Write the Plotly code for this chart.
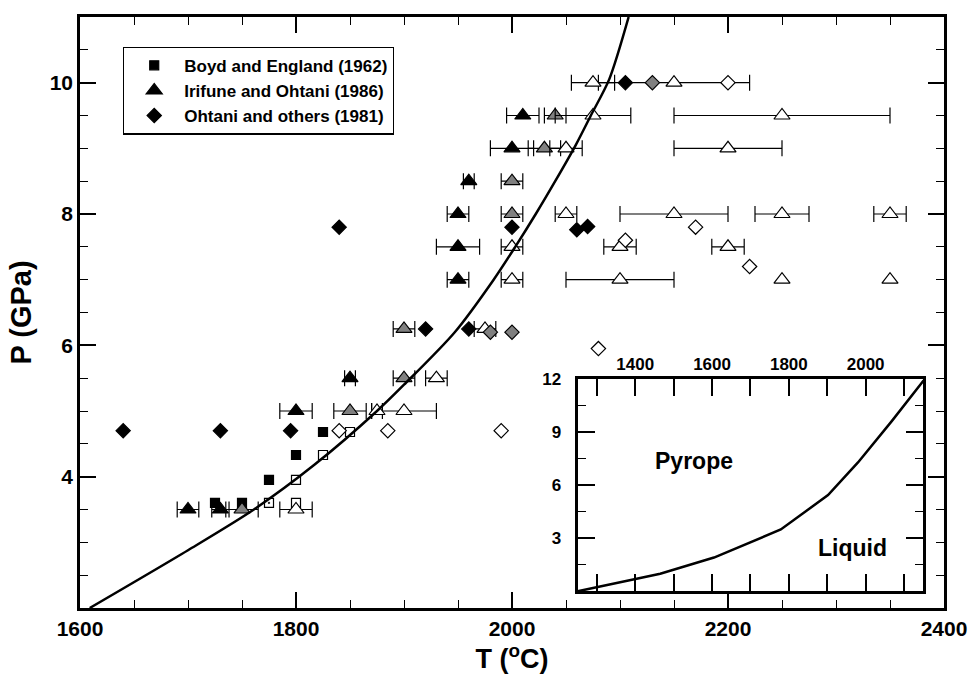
import plotly.graph_objects as go

# ---- Boyd and England (1962): squares ----
be_T = [1725, 1750, 1775, 1800, 1825, 1775, 1800, 1800, 1825, 1850]
be_P = [3.6, 3.6, 3.95, 4.33, 4.68, 3.6, 3.6, 3.95, 4.33, 4.68]
be_state = ["solid", "solid", "solid", "solid", "solid",
            "dot", "melt", "melt", "melt", "melt"]

# ---- Irifune and Ohtani (1986): triangles with temperature uncertainty ----
io_T = [1700, 1730, 1750, 1800,
        1800, 1850, 1875, 1900,
        1850, 1900, 1930,
        1900, 1975,
        1950, 2000, 2100, 2250, 2350,
        1950, 2000, 2100, 2200,
        1950, 2000, 2050, 2150, 2250, 2350,
        1960, 2000,
        2000, 2030, 2050, 2200,
        2010, 2040, 2075, 2250,
        2075, 2150]
io_P = [3.5, 3.5, 3.5, 3.5,
        5.0, 5.0, 5.0, 5.0,
        5.5, 5.5, 5.5,
        6.25, 6.25,
        7.0, 7.0, 7.0, 7.0, 7.0,
        7.5, 7.5, 7.5, 7.5,
        8.0, 8.0, 8.0, 8.0, 8.0, 8.0,
        8.5, 8.5,
        9.0, 9.0, 9.0, 9.0,
        9.5, 9.5, 9.5, 9.5,
        10.0, 10.0]
io_err = [10, 8, 15, 15,
          15, 15, 5, 30,
          5, 10, 10,
          10, 10,
          10, 10, 50, None, None,
          20, 10, 15, 15,
          10, 10, 10, 50, 25, 15,
          5, 10,
          20, 15, 15, 50,
          15, 10, 35, 100,
          20, 70]
io_state = ["solid", "solid", "partial", "melt",
            "solid", "partial", "melt", "melt",
            "solid", "partial", "melt",
            "partial", "melt",
            "solid", "melt", "melt", "melt", "melt",
            "solid", "melt", "melt", "melt",
            "solid", "partial", "melt", "melt", "melt", "melt",
            "solid", "partial",
            "solid", "partial", "melt", "melt",
            "solid", "partial", "melt", "melt",
            "melt", "melt"]

# ---- Ohtani and others (1981): diamonds ----
oh_T = [1640, 1730, 1795, 1840, 1920, 1960, 2000, 2060, 2070, 2105,
        1980, 2000, 2130,
        1840, 1885, 1990, 2080, 2105, 2170, 2220, 2200]
oh_P = [4.7, 4.7, 4.7, 7.8, 6.25, 6.25, 7.8, 7.76, 7.81, 10.0,
        6.2, 6.2, 10.0,
        4.7, 4.7, 4.7, 5.95, 7.6, 7.8, 7.2, 10.0]
oh_state = ["solid"] * 10 + ["partial"] * 3 + ["melt"] * 8

# ---- Pyrope melting curve ----
curve_T = [1609, 1700, 1761, 1817, 1875, 1900, 1947, 1983, 2003, 2022,
           2040, 2059, 2073, 2090, 2108]
curve_P = [2.0, 2.88, 3.5, 4.18, 5.0, 5.4, 6.2, 7.0, 7.5, 8.0,
           8.5, 9.05, 9.5, 10.05, 11.0]

# ---- Inset: full melting curve ----
inset_T = [1250, 1404, 1465, 1605, 1779, 1902, 1980, 2068, 2153]
inset_P = [0.0, 0.71, 0.99, 1.91, 3.5, 5.45, 7.3, 9.64, 12.0]

FONT = "Liberation Sans, Arial, Helvetica, sans-serif"
FILL = {"solid": "black", "partial": "#808080", "melt": "white", "dot": "white"}
LEGEND_NAMES = {"be": "Boyd and England (1962)",
                "io": "Irifune and Ohtani (1986)",
                "oh": "Ohtani and others (1981)"}

fig = go.Figure()


def add_points(key, T, P, states, symbol, size, rank, err=None):
    order = ["solid", "partial", "dot", "melt"]
    for st in order:
        idx = [i for i, s in enumerate(states) if s == st]
        if not idx:
            continue
        groups = [idx]
        if err is not None:
            groups = [[i for i in idx if err[i] is not None],
                      [i for i in idx if err[i] is None]]
        for g_no, g in enumerate(groups):
            if not g:
                continue
            sym = symbol + "-dot" if st == "dot" else symbol
            show = (st == "solid" and g_no == 0)
            kw = {}
            if err is not None and g_no == 0:
                kw["error_x"] = dict(type="data", array=[err[i] for i in g],
                                     symmetric=True, color="black",
                                     thickness=1.2, width=8)
            fig.add_trace(go.Scatter(
                x=[T[i] for i in g], y=[P[i] for i in g],
                mode="markers", name=LEGEND_NAMES[key],
                showlegend=show, legendrank=rank,
                marker=dict(symbol=sym, size=size, color=FILL[st],
                            line=dict(color="black", width=1.2)),
                xaxis="x", yaxis="y", **kw))


add_points("be", be_T, be_P, be_state, "square", 9, 1)
add_points("io", io_T, io_P, io_state, "triangle-up", 14, 2, err=io_err)
add_points("oh", oh_T, oh_P, oh_state, "diamond", 11, 3)

fig.add_trace(go.Scatter(x=curve_T, y=curve_P, mode="lines", showlegend=False,
                         line=dict(color="black", width=2.5, shape="spline",
                                   smoothing=0.8),
                         xaxis="x", yaxis="y"))

fig.add_trace(go.Scatter(x=inset_T, y=inset_P, mode="lines", showlegend=False,
                         line=dict(color="black", width=2.5),
                         xaxis="x2", yaxis="y2"))

axis_common = dict(showline=True, linecolor="black", mirror="allticks",
                   ticks="inside", tickcolor="black", showgrid=False,
                   zeroline=False)

fig.update_layout(
    width=976, height=683,
    margin=dict(l=80, r=32, t=8, b=75),
    paper_bgcolor="white", plot_bgcolor="white",
    font=dict(family=FONT, color="black"),
    xaxis=dict(range=[1600, 2400], tickvals=[1600, 1800, 2000, 2200, 2400],
               ticklen=16, tickwidth=1.5, linewidth=2.5,
               minor=dict(dtick=50, ticklen=8, tickwidth=1.2, ticks="inside",
                          tickcolor="black"),
               tickfont=dict(size=21, family=FONT, weight="bold"),
               title=dict(text="<b>T (<sup>o</sup>C)</b>",
                          font=dict(size=27, family=FONT), standoff=4),
               **axis_common),
    yaxis=dict(range=[2, 11], tickvals=[4, 6, 8, 10],
               ticklen=16, tickwidth=1.5, linewidth=2.5,
               minor=dict(dtick=0.5, ticklen=8, tickwidth=1.2, ticks="inside",
                          tickcolor="black"),
               tickfont=dict(size=21, family=FONT, weight="bold"),
               title=dict(text="<b>P (GPa)</b>",
                          font=dict(size=29, family=FONT), standoff=10),
               **axis_common),
    xaxis2=dict(domain=[0.576, 0.976], anchor="y2", side="top",
                range=[1250, 2150],
                tickvals=[1400, 1600, 1800, 2000],
                minor=dict(tickvals=[1300, 1500, 1700, 1900, 2100], ticklen=17,
                           tickwidth=1.5, ticks="inside", tickcolor="black"),
                ticklen=17, tickwidth=1.5, linewidth=3,
                tickfont=dict(size=17, family=FONT, weight="bold"),
                **axis_common),
    yaxis2=dict(domain=[0.0283, 0.3867], anchor="x2", range=[0, 12],
                tickvals=[3, 6, 9, 12], ticklen=17, tickwidth=1.5, linewidth=3,
                ticklabelstandoff=10,
                minor=dict(tickvals=[1.5, 4.5, 7.5, 10.5], ticklen=8,
                           tickwidth=1.2, ticks="inside", tickcolor="black"),
                tickfont=dict(size=17, family=FONT, weight="bold"),
                **axis_common),
    legend=dict(x=0.0498, y=0.95, xanchor="left", yanchor="top",
                bgcolor="white", bordercolor="black", borderwidth=1.2,
                font=dict(size=17, family=FONT, weight="bold"), itemwidth=50,
                itemsizing="trace", traceorder="normal"),
    annotations=[
        dict(x=1553, y=7.37, xref="x2", yref="y2", text="<b>Pyrope</b>",
             showarrow=False, font=dict(size=23, family=FONT)),
        dict(x=1965, y=2.46, xref="x2", yref="y2", text="<b>Liquid</b>",
             showarrow=False, font=dict(size=23, family=FONT)),
    ],
)

fig.write_html("out.html")
